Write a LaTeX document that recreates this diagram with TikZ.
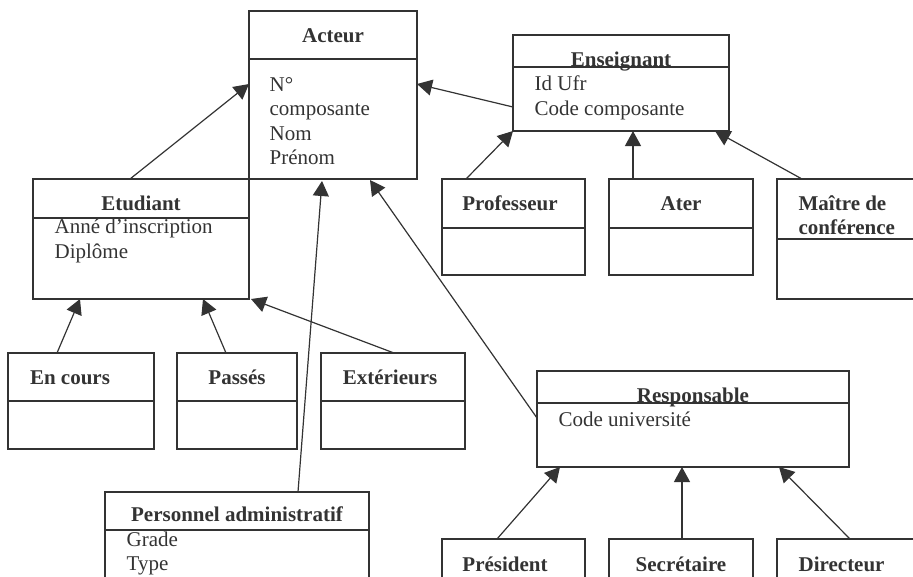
\documentclass[tikz,border=0pt]{standalone}
\usepackage{fontspec}
\setmainfont{Liberation Serif}
\usetikzlibrary{arrows.meta}
\definecolor{ink}{HTML}{333333}
\begin{document}
\begin{tikzpicture}[x=1pt, y=-1pt, color=ink, line width=1.3pt,
        box/.style = {draw, rectangle, inner sep=0pt, outer sep=0pt, anchor=north west},
        title/.style = {font=\fontsize{21}{25}\selectfont\bfseries, inner sep=0pt, anchor=base},
        ltitle/.style = {title, anchor=base west},
        attr/.style = {font=\fontsize{21}{25}\selectfont, inner sep=0pt, anchor=base west},
        isa/.style = {-{Triangle[length=15pt, width=16pt]}, line width=1.2pt}]
        \useasboundingbox (0,0) rectangle (913,576);
        \clip (0,0) rectangle (913,576);

        % class boxes
        \node (acteur)      [box, minimum width=168pt, minimum height=168pt] at (249,11)  {};
        \node (etudiant)    [box, minimum width=216pt, minimum height=120pt] at (33,179)  {};
        \node (enseignant)  [box, minimum width=216pt, minimum height=96pt]  at (513,35)  {};
        \node (professeur)  [box, minimum width=143pt, minimum height=96pt]  at (442,179) {};
        \node (ater)        [box, minimum width=144pt, minimum height=96pt]  at (609,179) {};
        \node (maitre)      [box, minimum width=163pt, minimum height=120pt] at (777,179) {};
        \node (encours)     [box, minimum width=146pt, minimum height=96pt]  at (8,353)   {};
        \node (passes)      [box, minimum width=120pt, minimum height=96pt]  at (177,353) {};
        \node (exterieurs)  [box, minimum width=144pt, minimum height=96pt]  at (321,353) {};
        \node (personnel)   [box, minimum width=264pt, minimum height=108pt] at (105,492) {};
        \node (responsable) [box, minimum width=312pt, minimum height=96pt]  at (537,371) {};
        \node (president)   [box, minimum width=143pt, minimum height=81pt]  at (442,539) {};
        \node (secretaire)  [box, minimum width=144pt, minimum height=81pt]  at (609,539) {};
        \node (directeur)   [box, minimum width=163pt, minimum height=81pt]  at (777,539) {};

        % header lines
        \draw (acteur.west |- 0,59)       -- (acteur.east |- 0,59);
        \draw (etudiant.west |- 0,218)    -- (etudiant.east |- 0,218);
        \draw (enseignant.west |- 0,67)   -- (enseignant.east |- 0,67);
        \draw (professeur.west |- 0,228)  -- (professeur.east |- 0,228);
        \draw (ater.west |- 0,228)        -- (ater.east |- 0,228);
        \draw (maitre.west |- 0,239)      -- (maitre.east |- 0,239);
        \draw (encours.west |- 0,401)     -- (encours.east |- 0,401);
        \draw (passes.west |- 0,401)      -- (passes.east |- 0,401);
        \draw (exterieurs.west |- 0,401)  -- (exterieurs.east |- 0,401);
        \draw (personnel.west |- 0,530)   -- (personnel.east |- 0,530);
        \draw (responsable.west |- 0,403) -- (responsable.east |- 0,403);

        % titles
        \node (tacteur)      [title]  at (333,42)  {Acteur};
        \node (tetudiant)    [title]  at (141,210) {Etudiant};
        \node (tenseignant)  [title]  at (621,66)  {Enseignant};
        \node (tprofesseur)  [title]  at (510,210) {Professeur};
        \node (tater)        [title]  at (681,210) {Ater};
        \node (tmaitre)      [ltitle] at (798,210) {Maître de};
        \node (tmaitreb)     [ltitle] at (798,234) {conférence};
        \node (tencours)     [title]  at (70,384)  {En cours};
        \node (tpasses)      [title]  at (237,384) {Passés};
        \node (texterieurs)  [title]  at (390,384) {Extérieurs};
        \node (tpersonnel)   [title]  at (237,521) {Personnel administratif};
        \node (tresponsable) [title]  at (693,402) {Responsable};
        \node (tpresident)   [title]  at (505,571) {Président};
        \node (tsecretaire)  [title]  at (681,571) {Secrétaire};
        \node (tdirecteur)   [ltitle] at (798,571) {Directeur};

        % attributes
        \node (anum)   [attr] at (269,91)  {N°};
        \node (acomp)  [attr] at (269,115) {composante};
        \node (anom)   [attr] at (269,140) {Nom};
        \node (apre)   [attr] at (269,164) {Prénom};
        \node (eannee) [attr] at (54,233)  {Anné d’inscription};
        \node (edipl)  [attr] at (54,258)  {Diplôme};
        \node (nufr)   [attr] at (534,90)  {Id Ufr};
        \node (ncode)  [attr] at (534,115) {Code composante};
        \node (pgrade) [attr] at (126,546) {Grade};
        \node (ptype)  [attr] at (126,570) {Type};
        \node (rcode)  [attr] at (558,426) {Code université};

        % generalisations
        \draw[isa] ([xshift=97pt]etudiant.north west)    -- ([yshift=-73pt]acteur.north west);
        \draw[isa] ([yshift=-72pt]enseignant.north west) -- ([yshift=-73pt]acteur.north east);
        \draw[isa] ([xshift=193pt]personnel.north west)  -- ([xshift=73pt, yshift=-2pt]acteur.south west);
        \draw[isa] ([yshift=-47pt]responsable.north west) -- ([xshift=121pt, yshift=-1pt]acteur.south west);
        \draw[isa] ([xshift=24pt]professeur.north west)  -- (enseignant.south west);
        \draw[isa] ([xshift=24pt]ater.north west)        -- ([xshift=120pt]enseignant.south west);
        \draw[isa] ([xshift=25pt]maitre.north west)      -- ([xshift=202pt]enseignant.south west);
        \draw[isa] ([xshift=49pt]encours.north west)     -- ([xshift=47pt]etudiant.south west);
        \draw[isa] ([xshift=49pt]passes.north west)      -- ([xshift=170pt]etudiant.south west);
        \draw[isa] ([xshift=73pt]exterieurs.north west)  -- ([xshift=2pt]etudiant.south east);
        \draw[isa] ([xshift=55pt]president.north west)   -- ([xshift=23pt]responsable.south west);
        \draw[isa] ([xshift=73pt]secretaire.north west)  -- ([xshift=145pt]responsable.south west);
        \draw[isa] ([xshift=73pt]directeur.north west)   -- ([xshift=242pt]responsable.south west);
\end{tikzpicture}
\end{document}
